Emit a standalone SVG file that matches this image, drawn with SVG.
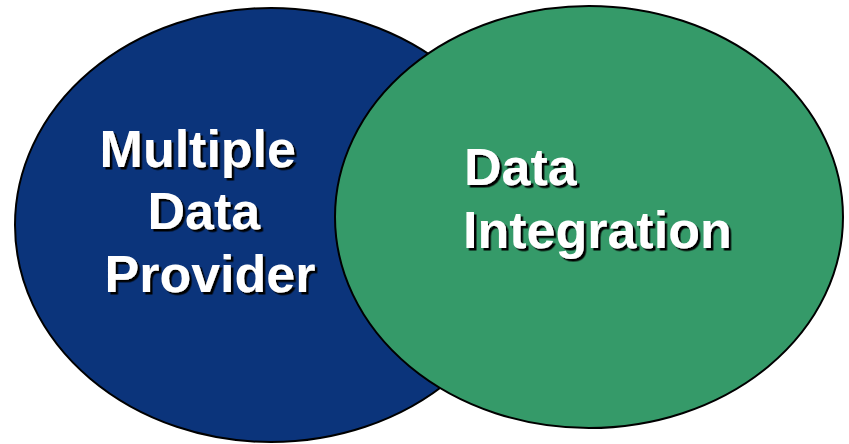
<svg xmlns="http://www.w3.org/2000/svg" width="849" height="444" viewBox="0 0 849 444">
  <defs>
    <filter id="shadow" x="-10%" y="-10%" width="130%" height="140%">
      <feDropShadow dx="2.5" dy="2.5" stdDeviation="0.3" flood-color="#000" flood-opacity="1"/>
    </filter>
  </defs>
  <style>
    .lbl { font-family: "Liberation Sans", Arial, sans-serif; font-weight: bold; font-size: 52px; fill: #ffffff; filter: url(#shadow); }
    .ell { stroke: #000; stroke-width: 2; }
  </style>
  <rect width="849" height="444" fill="#ffffff"/>
  <g id="provider">
    <ellipse class="ell" cx="271" cy="225" rx="256" ry="217" fill="#0b347b"/>
    <text class="lbl" text-anchor="middle">
      <tspan x="205" y="167">Multiple</tspan>
      <tspan x="211" y="229">Data</tspan>
      <tspan x="210" y="292">Provider</tspan>
    </text>
  </g>
  <g id="integration">
    <ellipse class="ell" cx="589" cy="217" rx="254" ry="211" fill="#359a69"/>
    <text class="lbl">
      <tspan x="464" y="185">Data</tspan>
      <tspan x="463" y="248">Integration</tspan>
    </text>
  </g>
  <g id="connectors"/>
</svg>
